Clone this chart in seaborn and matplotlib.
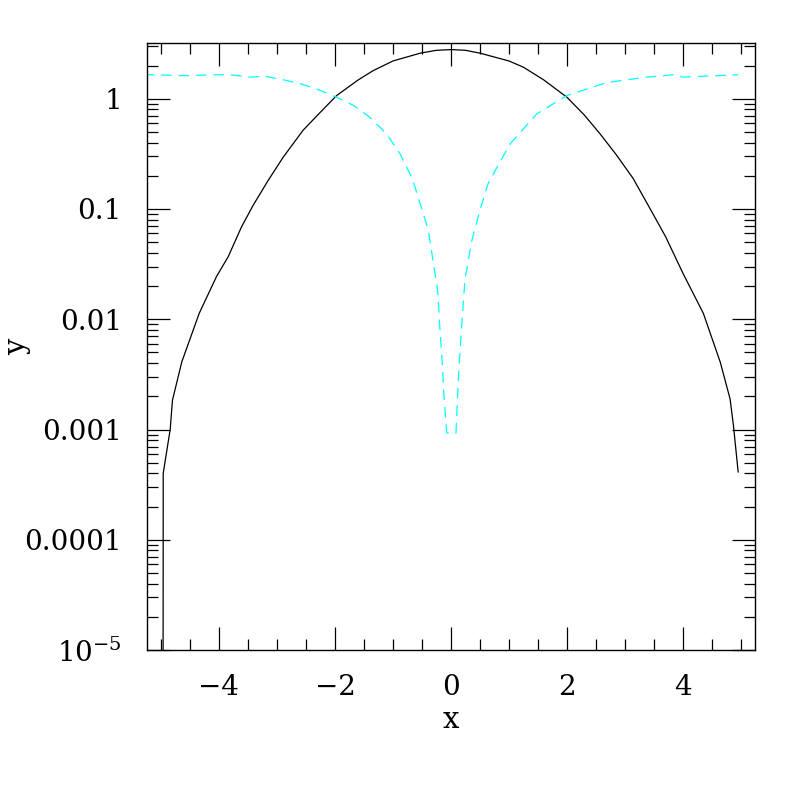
import numpy as np
import pandas as pd
import matplotlib
matplotlib.use('Agg')
import matplotlib.pyplot as plt
import seaborn as sns
from matplotlib.ticker import FixedLocator, FixedFormatter, MultipleLocator, LogLocator, NullFormatter

# solid black curve
bx = [-4.965, -4.96, -4.84, -4.80, -4.64, -4.34, -4.04, -3.84, -3.61, -3.41, -3.15, -2.89,
      -2.55, -2.3, -1.97, -1.6, -1.34, -1.0, -0.53, -0.25, 0.0, 0.25, 0.5, 1.0, 1.25, 1.6,
      2.0, 2.3, 2.57, 2.85, 3.14, 3.43, 3.7, 4.0, 4.35, 4.64, 4.81, 4.87, 4.95]
by = [1e-8, 4.0e-4, 1.0e-3, 1.85e-3, 4.1e-3, 0.0113, 0.0245, 0.0369, 0.0689, 0.108, 0.182, 0.296,
      0.517, 0.71, 1.07, 1.48, 1.80, 2.2, 2.59, 2.75, 2.79, 2.75, 2.59, 2.2, 1.93, 1.48,
      1.03, 0.71, 0.48, 0.31, 0.189, 0.101, 0.056, 0.026, 0.0113, 0.0041, 0.0019, 0.00107, 0.00041]

# dashed cyan curve
cx = [-5.3, -4.62, -3.84, -3.47, -3.21, -2.90, -2.60, -2.32, -1.97, -1.68, -1.40, -1.11, -0.88,
      -0.68, -0.62, -0.48, -0.39, -0.31, -0.23, -0.19, -0.15, -0.12, -0.074, 0.086, 0.126, 0.18,
      0.24, 0.36, 0.5, 0.64, 0.7, 1.02, 1.48, 2.0, 2.68, 3.37, 3.83, 4.0, 4.95]
cy = [1.66, 1.62, 1.66, 1.57, 1.6, 1.49, 1.37, 1.23, 1.03, 0.87, 0.68, 0.48, 0.318,
      0.195, 0.158, 0.091, 0.064, 0.034, 0.0184, 0.0081, 0.0040, 0.0020, 0.00093, 0.00093, 0.0028, 0.0081,
      0.0228, 0.052, 0.098, 0.17, 0.195, 0.39, 0.73, 1.07, 1.40, 1.57, 1.65, 1.57, 1.65]

ytick_vals = [1e-5, 1e-4, 1e-3, 1e-2, 1e-1, 1]
ytick_labels = [r'$10^{-5}$', '0.0001', '0.001', '0.01', '0.1', '1']
xtick_vals = [-4, -2, 0, 2, 4]
xtick_labels = ['\u22124', '\u22122', '0', '2', '4']

sns.set_style('ticks')
plt.rcParams['font.family'] = ['DejaVu Serif']
plt.rcParams['mathtext.fontset'] = 'dejavuserif'
plt.rcParams['text.color'] = 'black'
plt.rcParams['axes.labelcolor'] = 'black'
plt.rcParams['xtick.color'] = 'black'
plt.rcParams['ytick.color'] = 'black'

df_b = pd.DataFrame({'x': bx, 'y': by})
df_c = pd.DataFrame({'x': cx, 'y': cy})

fig = plt.figure(figsize=(7.97, 7.97), dpi=100)
ax = fig.add_axes([0.1844, 0.1844, 0.7629, 0.7616])

sns.lineplot(data=df_b, x='x', y='y', ax=ax, color='black', lw=0.9, estimator=None, sort=False)
sns.lineplot(data=df_c, x='x', y='y', ax=ax, color='#00ffff', lw=0.9, estimator=None, sort=False,
             dashes=False, linestyle=(0, (8.5, 5.5)))

ax.set_yscale('log')
ax.set_xlim(-5.24, 5.24)
ax.set_ylim(1e-5, 3.2)

ax.xaxis.set_major_locator(FixedLocator(xtick_vals))
ax.xaxis.set_major_formatter(FixedFormatter(xtick_labels))
ax.xaxis.set_minor_locator(MultipleLocator(0.5))
ax.yaxis.set_major_locator(FixedLocator(ytick_vals))
ax.yaxis.set_major_formatter(FixedFormatter(ytick_labels))
ax.yaxis.set_minor_locator(LogLocator(base=10, subs=np.arange(2, 10), numticks=20))
ax.yaxis.set_minor_formatter(NullFormatter())

ax.tick_params(which='both', direction='in', top=True, right=True, width=0.9, color='black')
ax.tick_params(which='major', length=16.5, labelsize=20, labelcolor='black')
ax.tick_params(which='minor', length=8)
ax.tick_params(axis='y', which='major', pad=18)
ax.tick_params(axis='x', which='major', pad=17)

for s in ax.spines.values():
    s.set_linewidth(1.0)
    s.set_color('black')

ax.set_xlabel('x', fontsize=21, color='black')
ax.set_ylabel('y', fontsize=21, color='black')
ax.xaxis.set_label_coords(0.5, -0.093)
ax.yaxis.set_label_coords(-0.19, 0.5)

fig.savefig('out.png', dpi=100)
